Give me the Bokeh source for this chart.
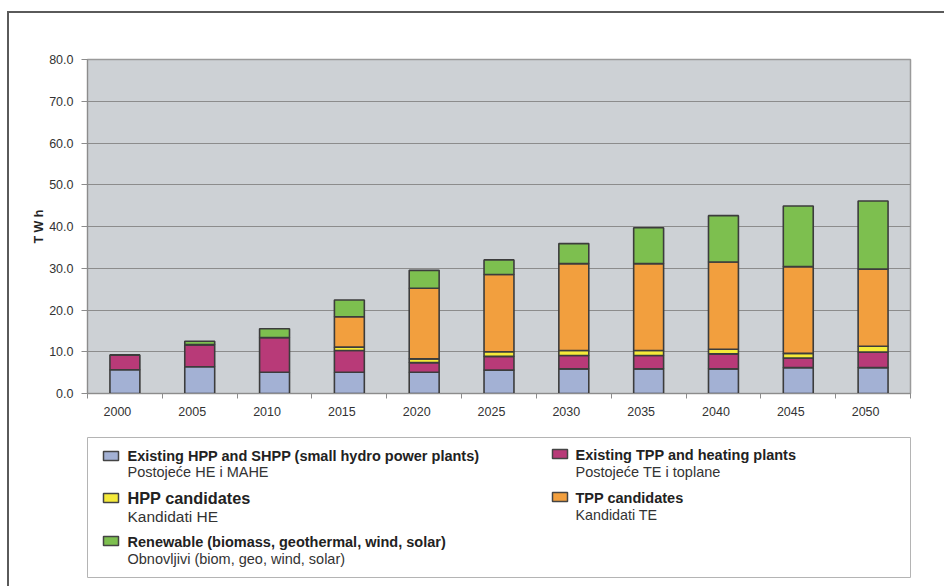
from bokeh.plotting import figure
from bokeh.layouts import column
from bokeh.models import ColumnDataSource, Range1d, FixedTicker, NumeralTickFormatter
from bokeh.core.properties import value
from bokeh.embed import file_html
from bokeh.resources import INLINE

# Electricity generation by source, TWh
years = [2000, 2005, 2010, 2015, 2020, 2025, 2030, 2035, 2040, 2045, 2050]
hpp_existing = [5.7, 6.4, 5.1, 5.1, 5.1, 5.6, 5.9, 5.9, 5.9, 6.2, 6.2]
tpp_existing = [3.5, 5.3, 8.3, 5.2, 2.3, 3.3, 3.2, 3.2, 3.6, 2.3, 3.7]
hpp_candidates = [0.0, 0.0, 0.0, 0.8, 0.9, 1.1, 1.2, 1.2, 1.1, 1.1, 1.4]
tpp_candidates = [0.0, 0.0, 0.0, 7.3, 16.9, 18.5, 20.8, 20.8, 20.9, 20.8, 18.5]
renewable = [0.0, 0.8, 2.1, 4.0, 4.3, 3.5, 4.8, 8.6, 11.1, 14.5, 16.3]

series_keys = ["hpp_existing", "tpp_existing", "hpp_candidates", "tpp_candidates", "renewable"]
series_colors = ["#a3b1d4", "#b83a78", "#f5ea3a", "#f29f3e", "#7dbf4f"]

legend_titles = [
    "Existing HPP and SHPP (small hydro power plants)",
    "Existing TPP and heating plants",
    "HPP candidates",
    "TPP candidates",
    "Renewable (biomass, geothermal, wind, solar)",
]
legend_subtitles = [
    "Postojeće HE i MAHE",
    "Postojeće TE i toplane",
    "Kandidati HE",
    "Kandidati TE",
    "Obnovljivi (biom, geo, wind, solar)",
]
legend_series = [0, 1, 2, 3, 4]

y_ticks = [0, 10, 20, 30, 40, 50, 60, 70, 80]

FONT = "Liberation Sans"
PAGE_W = 935

# ---------------------------------------------------------------- chart
src = ColumnDataSource(dict(
    year=years,
    hpp_existing=hpp_existing,
    tpp_existing=tpp_existing,
    hpp_candidates=hpp_candidates,
    tpp_candidates=tpp_candidates,
    renewable=renewable,
))

p = figure(width=PAGE_W, height=420, output_backend="svg", toolbar_location=None,
           x_range=Range1d(1997.5, 2052.5), y_range=Range1d(0, 80),
           min_border_left=77, min_border_right=31, min_border_top=46,
           min_border_bottom=40)

p.background_fill_color = "#cdd1d5"
p.border_fill_color = "white"
p.outline_line_color = "#9a9a9a"
p.outline_line_width = 1.5

p.vbar_stack(series_keys, x="year", width=2.0, color=series_colors,
             line_color="#3c3c3c", line_width=1.6, source=src)

p.xgrid.visible = False
p.ygrid.grid_line_color = "#8c8c8c"
p.ygrid.grid_line_width = 1

p.yaxis.ticker = FixedTicker(ticks=y_ticks)
p.yaxis.formatter = NumeralTickFormatter(format="0.0")
p.yaxis.major_label_text_font = FONT
p.yaxis.major_label_text_font_size = "12.5px"
p.yaxis.major_label_text_color = "#333333"
p.yaxis.major_tick_out = 6
p.yaxis.major_tick_in = 0
p.yaxis.minor_tick_out = 0
p.yaxis.minor_tick_in = 0
p.yaxis.major_tick_line_color = "#8c8c8c"
p.yaxis.axis_line_color = "#8c8c8c"
p.yaxis.major_label_standoff = 8
p.yaxis.axis_label = "T W h"
p.yaxis.axis_label_text_font = FONT
p.yaxis.axis_label_text_font_size = "12.5px"
p.yaxis.axis_label_text_font_style = "bold"
p.yaxis.axis_label_text_color = "#222222"
p.yaxis.axis_label_standoff = 0

# labels sit slightly left of each column; ticks mark the category boundaries
label_pos = [y - 0.5 for y in years]
boundaries = [y - 2.5 for y in years] + [years[-1] + 2.5]
p.xaxis.ticker = FixedTicker(ticks=label_pos, minor_ticks=boundaries)
p.xaxis.major_label_overrides = {pos: str(y) for pos, y in zip(label_pos, years)}
p.xaxis.major_label_text_font = FONT
p.xaxis.major_label_text_font_size = "12.5px"
p.xaxis.major_label_text_color = "#333333"
p.xaxis.major_tick_out = 0
p.xaxis.major_tick_in = 0
p.xaxis.minor_tick_out = 5
p.xaxis.minor_tick_in = 0
p.xaxis.minor_tick_line_color = "#8c8c8c"
p.xaxis.axis_line_color = "#8c8c8c"
p.xaxis.major_label_standoff = 8

# ---------------------------------------------------------------- legend
# legend panel uses pixel-like coordinates: x to the right, y downward
leg = figure(width=PAGE_W, height=153, output_backend="svg", toolbar_location=None,
             x_range=Range1d(87, 910), y_range=Range1d(577, 437),
             min_border_left=78, min_border_right=34, min_border_top=4,
             min_border_bottom=9)
leg.axis.visible = False
leg.grid.visible = False
leg.background_fill_color = "white"
leg.border_fill_color = "white"
leg.outline_line_color = "#b4b4b4"
leg.outline_line_width = 1

# entry layout: swatch x, swatch top, text x, title baseline, subtitle baseline, sizes
sw_x = [103, 552, 103, 552, 103]
sw_top = [451, 449, 493, 492, 536]
txt_x = [127, 575, 127, 575, 127]
title_y = [455.5, 454.5, 497.5, 497.0, 541.5]
sub_y = [471.0, 471.0, 516.0, 514.0, 558.5]
title_size = ["14.5px", "14.5px", "16.3px", "14.5px", "14.5px"]
sub_size = ["14.5px", "14.5px", "15.5px", "14.3px", "14.5px"]

leg_src = ColumnDataSource(dict(
    left=sw_x,
    right=[x + 15 for x in sw_x],
    top=sw_top,
    bottom=[y + 9 for y in sw_top],
    color=[series_colors[i] for i in legend_series],
    tx=txt_x,
    ty=title_y,
    uy=sub_y,
    title=legend_titles,
    sub=legend_subtitles,
    tsize=title_size,
    usize=sub_size,
))

leg.quad(left="left", right="right", top="top", bottom="bottom", fill_color="color",
         line_color="#444444", line_width=1.5, source=leg_src)
leg.text(x="tx", y="ty", text="title", text_font=value(FONT), text_font_size="tsize",
         text_font_style="bold", text_color="#222222", text_baseline="alphabetic",
         source=leg_src)
leg.text(x="tx", y="uy", text="sub", text_font=value(FONT), text_font_size="usize",
         text_color="#333333", text_baseline="alphabetic", source=leg_src)

page = column(p, leg, spacing=0,
              styles={"margin-left": "7px", "margin-top": "11px",
                      "border-left": "2px solid #5a5a5a",
                      "border-top": "2px solid #5a5a5a"})

open("out.html", "w").write(file_html(page, INLINE))
